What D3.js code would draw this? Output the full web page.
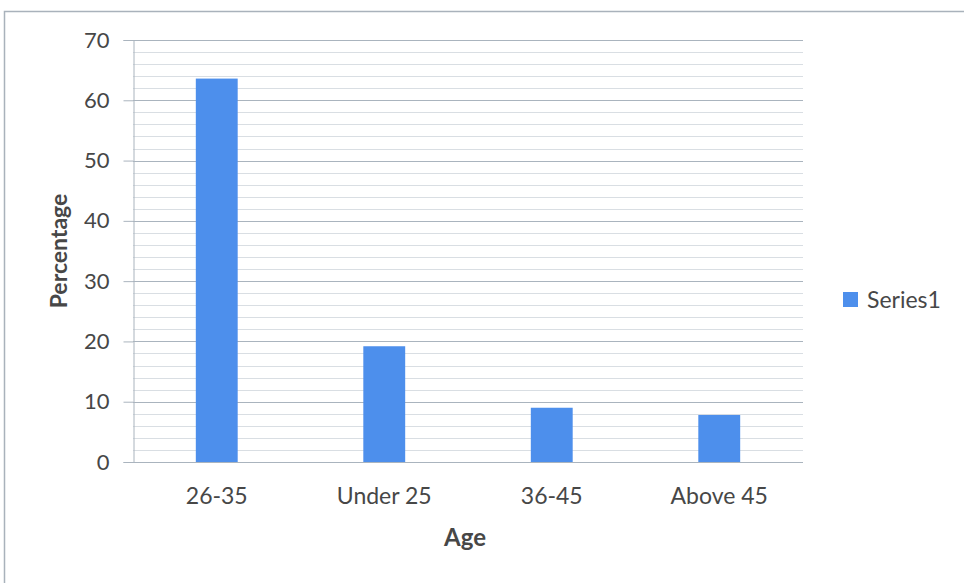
<!DOCTYPE html>
<html>
<head>
<meta charset="utf-8">
<script src="https://cdn.jsdelivr.net/npm/d3@7"></script>
<style>
  html, body { margin: 0; padding: 0; background: #fff; }
  svg { display: block; font-family: Lato, "Open Sans", sans-serif; }
</style>
</head>
<body>
<svg id="chart" width="964" height="583"></svg>
<script>
// Respondents by age group (percentage)
const categories = ["26-35", "Under 25", "36-45", "Above 45"];
const values = [63.6, 19.2, 9.0, 7.8];
const seriesName = "Series1";
const yTicks = [0, 10, 20, 30, 40, 50, 60, 70];
const yMinorTicks = d3.range(0, 70.01, 2);

const svg = d3.select("#chart");
const W = 964, H = 583;
const plot = { left: 133, right: 803, top: 40, bottom: 462 };

const textColor = "#474747";
const barColor = "#4d8fec";

// chart frame
svg.append("path")
  .attr("d", `M4.5,${H + 2} V11.5 H${W + 2}`)
  .attr("fill", "none")
  .attr("stroke", "#a9b2bb")
  .attr("stroke-width", 1.5);

const x = d3.scaleBand()
  .domain(categories)
  .range([plot.left, plot.right])
  .paddingInner(0.75)
  .paddingOuter(0.375);

const y = d3.scaleLinear()
  .domain([0, 70])
  .range([plot.bottom, plot.top]);

// minor gridlines
svg.append("g")
  .selectAll("line")
  .data(yMinorTicks.filter(v => v % 10 !== 0))
  .join("line")
  .attr("x1", plot.left).attr("x2", plot.right)
  .attr("y1", d => Math.round(y(d)) + 0.5).attr("y2", d => Math.round(y(d)) + 0.5)
  .attr("stroke", "#d9dee3")
  .attr("stroke-width", 1);

// major gridlines
svg.append("g")
  .selectAll("line")
  .data(yTicks)
  .join("line")
  .attr("x1", plot.left).attr("x2", plot.right)
  .attr("y1", d => Math.round(y(d)) + 0.5).attr("y2", d => Math.round(y(d)) + 0.5)
  .attr("stroke", "#aab4be")
  .attr("stroke-width", 1);

// y axis
const yAxis = svg.append("g")
  .attr("transform", `translate(${plot.left + 0.5},0)`)
  .call(d3.axisLeft(y).tickValues(yTicks).tickSize(10).tickPadding(14).tickFormat(d3.format("d")));
yAxis.select(".domain").attr("stroke", "#aab4be");
yAxis.selectAll(".tick line").attr("stroke", "#aab4be");
yAxis.selectAll(".tick text")
  .attr("fill", textColor)
  .attr("font-size", 22)
  .attr("font-family", "Lato, sans-serif");

// x axis labels
const xAxis = svg.append("g")
  .attr("transform", `translate(0,${plot.bottom})`)
  .call(d3.axisBottom(x).tickSize(0).tickPadding(26));
xAxis.select(".domain").remove();
xAxis.selectAll(".tick text")
  .attr("fill", textColor)
  .attr("font-size", 23)
  .attr("font-family", "Lato, sans-serif");

// bars
svg.append("g")
  .selectAll("rect")
  .data(categories.map((c, i) => ({ c, v: values[i] })))
  .join("rect")
  .attr("x", d => x(d.c))
  .attr("width", x.bandwidth())
  .attr("y", d => y(d.v))
  .attr("height", d => y(0) - y(d.v))
  .attr("fill", barColor);

// axis titles
svg.append("text")
  .attr("transform", `translate(67,251) rotate(-90)`)
  .attr("text-anchor", "middle")
  .attr("font-size", 23)
  .attr("font-weight", "bold")
  .attr("fill", textColor)
  .text("Percentage");

svg.append("text")
  .attr("x", 465)
  .attr("y", 546)
  .attr("text-anchor", "middle")
  .attr("font-size", 24)
  .attr("font-weight", "bold")
  .attr("fill", textColor)
  .text("Age");

// legend
const legend = svg.append("g").attr("transform", "translate(843,292)");
legend.append("rect").attr("width", 15).attr("height", 15).attr("fill", barColor);
legend.append("text")
  .attr("x", 24).attr("y", 16)
  .attr("font-size", 23)
  .attr("fill", textColor)
  .text(seriesName);
</script>
</body>
</html>
